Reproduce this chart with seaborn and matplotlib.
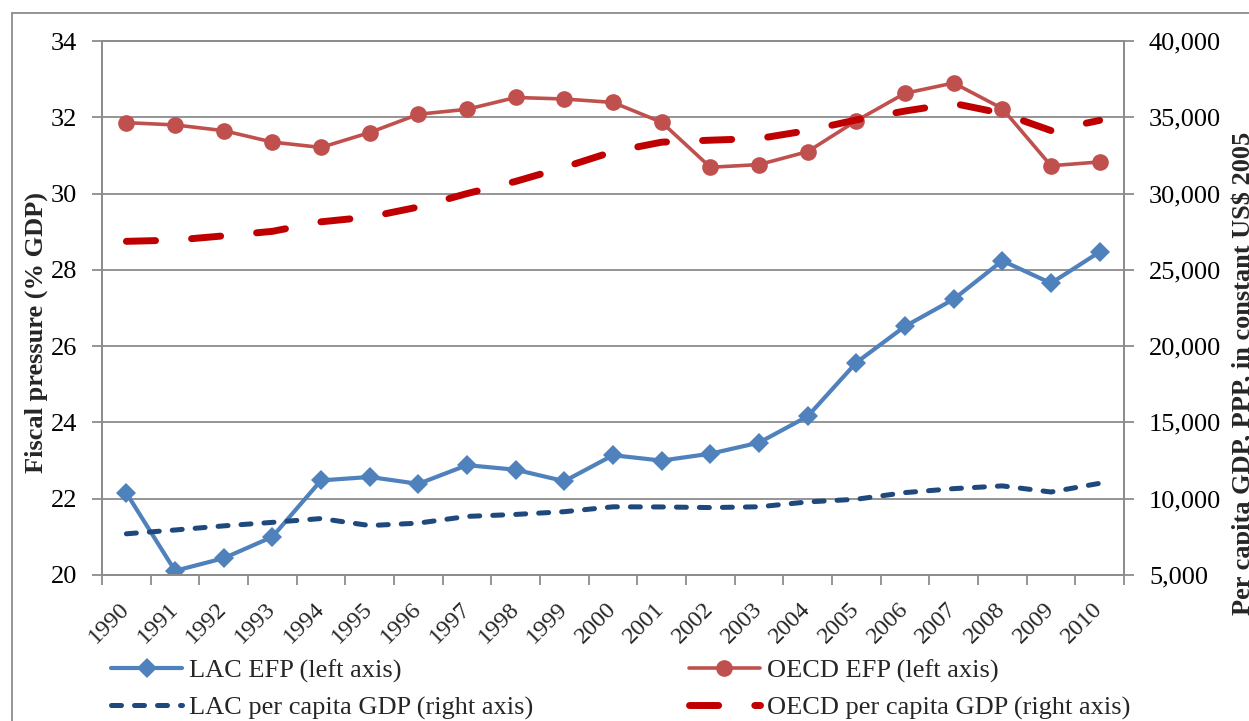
import seaborn as sns
import matplotlib.pyplot as plt
import pandas as pd
from matplotlib.lines import Line2D
from matplotlib.ticker import FuncFormatter, MultipleLocator, FixedLocator

sns.set_theme(style="white")
plt.rcParams['font.family'] = ['Liberation Serif', 'DejaVu Serif']

years = ["1990", "1991", "1992", "1993", "1994", "1995", "1996", "1997", "1998", "1999", "2000",
         "2001", "2002", "2003", "2004", "2005", "2006", "2007", "2008", "2009", "2010"]
lac_efp = [22.15, 20.11, 20.44, 21.00, 22.48, 22.57, 22.39, 22.88, 22.76, 22.46, 23.14,
           23.00, 23.18, 23.47, 24.16, 25.57, 26.52, 27.23, 28.24, 27.65, 28.47]
oecd_efp = [31.86, 31.80, 31.65, 31.35, 31.21, 31.60, 32.08, 32.21, 32.52, 32.48, 32.39,
            31.87, 30.69, 30.76, 31.10, 31.91, 32.63, 32.90, 32.23, 30.73, 30.83]
lac_gdp = [7700, 7950, 8220, 8450, 8700, 8240, 8400, 8840, 8970, 9150, 9470,
           9460, 9420, 9470, 9790, 9965, 10400, 10660, 10840, 10440, 11010]
oecd_gdp = [26870, 26950, 27230, 27525, 28150, 28470, 29120, 30000, 30800, 31730, 32750,
            33370, 33500, 33610, 34130, 34830, 35410, 35910, 35260, 34130, 34800]

labels = ["LAC EFP (left axis)", "LAC per capita GDP (right axis)",
          "OECD EFP (left axis)", "OECD per capita GDP (right axis)"]

df = pd.DataFrame({"year": years, "lac_efp": lac_efp, "oecd_efp": oecd_efp,
                   "lac_gdp": lac_gdp, "oecd_gdp": oecd_gdp})

grey = "#8c8c8c"
fs = 19

fig = plt.figure(figsize=(12.49, 7.21), dpi=100)
ax = fig.add_axes([0.0817, 0.2025, 0.8182, 0.7406])
ax2 = ax.twinx()

sns.lineplot(data=df, x="year", y="lac_efp", ax=ax, color="#4F81BD", lw=3,
             marker="D", markersize=10, markeredgewidth=0, sort=False)
sns.lineplot(data=df, x="year", y="oecd_efp", ax=ax, color="#C0504D", lw=2.6,
             marker="o", markersize=12, markeredgewidth=0, sort=False)
sns.lineplot(data=df, x="year", y="lac_gdp", ax=ax2, color="#1F497D", lw=3.6, sort=False)
sns.lineplot(data=df, x="year", y="oecd_gdp", ax=ax2, color="#C00000", lw=5, sort=False)

l_lac, l_oecd = ax.lines[0], ax.lines[1]
d_lac, d_oecd = ax2.lines[0], ax2.lines[1]
d_lac.set_dashes([2.0, 2.6])
d_lac.set_dash_capstyle("round")
d_oecd.set_dashes([4.2, 5.2])
d_oecd.set_dash_capstyle("round")

# left axis
ax.set_ylim(20, 34)
ax.yaxis.set_major_locator(MultipleLocator(2))
ax.set_xlim(-0.5, len(years) - 0.5)
ax.grid(axis="y", color=grey, lw=1.3)
ax.grid(axis="x", visible=False)
ax.set_axisbelow(True)

# right axis
ax2.set_ylim(5000, 40000)
ax2.yaxis.set_major_locator(MultipleLocator(5000))
ax2.yaxis.set_major_formatter(FuncFormatter(lambda v, p: f"{int(v):,}"))
ax2.grid(False)

for a in (ax, ax2):
    for s in a.spines.values():
        s.set_color(grey)
        s.set_linewidth(1.3)

ax.tick_params(axis="y", which="major", left=True, length=7, width=1.3, color=grey,
               labelsize=fs, pad=11, labelcolor="black")
ax2.tick_params(axis="y", which="major", right=True, length=7, width=1.3, color=grey,
                labelsize=fs, pad=11, labelcolor="black")

# category ticks: labels at centres, tick marks at the boundaries
ax.xaxis.set_minor_locator(FixedLocator([i - 0.5 for i in range(len(years) + 1)]))
ax.tick_params(axis="x", which="minor", bottom=True, length=7, width=1.3, color=grey)
ax.tick_params(axis="x", which="major", bottom=True, length=0, labelsize=17.5, pad=22)
for t in ax.get_xticklabels():
    t.set_rotation(45)
    t.set_ha("right")
    t.set_va("center")
    t.set_rotation_mode("anchor")

ax.set_xlabel("")
ax.set_ylabel("Fiscal pressure (% GDP)", fontsize=fs, fontweight="bold")
ax.yaxis.set_label_coords(-0.053, 0.455)
ax2.set_ylabel("Per capita GDP, PPP, in constant US$ 2005", fontsize=fs, fontweight="bold",
               rotation=90)
ax2.yaxis.set_label_coords(1.105, 0.378)

fig.legend([l_lac, d_lac, l_oecd, d_oecd], labels, ncol=2, frameon=False, fontsize=fs,
           loc="upper left", bbox_to_anchor=(111 / 1249, 1 - 659 / 721),
           borderpad=0, borderaxespad=0, handlelength=2.7, handletextpad=0.25,
           columnspacing=5.9, labelspacing=0.5)

# outer chart frame
fig.add_artist(Line2D([12 / 1249, 1], [1 - 13 / 721, 1 - 13 / 721], transform=fig.transFigure,
                      color=grey, lw=1.3))
fig.add_artist(Line2D([12 / 1249, 12 / 1249], [0, 1 - 13 / 721], transform=fig.transFigure,
                      color=grey, lw=1.3))

plt.savefig("out.png", dpi=100)
